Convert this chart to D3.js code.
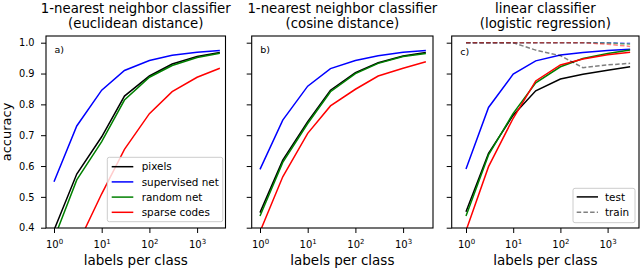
<!DOCTYPE html>
<html>
<head>
<meta charset="utf-8">
<script src="https://cdn.jsdelivr.net/npm/d3@7"></script>
<style>
  body { margin: 0; background: #fff; }
  text { font-family: "DejaVu Sans", sans-serif; fill: #000; }
</style>
</head>
<body>
<script>
const [width, height] = [640, 272];

// data
const labelsPerClass = [1, 3, 10, 30, 100, 300, 1000, 3000];
const seriesNames = ['pixels', 'supervised net', 'random net', 'sparse codes'];
const seriesColors = ['#000000', '#0000ff', '#008000', '#ff0000'];
const yTicks = [0.4, 0.5, 0.6, 0.7, 0.8, 0.9, 1.0];
const xTicks = [1, 10, 100, 1000];

// a) euclidean
const euclidPixels     = [0.392, 0.574, 0.695, 0.827, 0.892, 0.931, 0.955, 0.968];
const euclidSupervised = [0.549, 0.730, 0.846, 0.910, 0.942, 0.959, 0.969, 0.975];
const euclidRandom     = [0.364, 0.555, 0.679, 0.814, 0.888, 0.926, 0.952, 0.966];
const euclidSparse     = [0.220, 0.340, 0.510, 0.654, 0.770, 0.841, 0.888, 0.917];
// b) cosine
const cosinePixels     = [0.449, 0.619, 0.744, 0.846, 0.903, 0.935, 0.957, 0.968];
const cosineSupervised = [0.589, 0.749, 0.859, 0.916, 0.942, 0.958, 0.969, 0.975];
const cosineRandom     = [0.438, 0.612, 0.738, 0.841, 0.900, 0.933, 0.955, 0.965];
const cosineSparse     = [0.387, 0.565, 0.706, 0.795, 0.849, 0.892, 0.917, 0.938];
// c) logistic regression, test
const linearPixels     = [0.452, 0.641, 0.765, 0.844, 0.882, 0.898, 0.911, 0.922];
const linearSupervised = [0.590, 0.790, 0.898, 0.941, 0.960, 0.968, 0.975, 0.979];
const linearRandom     = [0.438, 0.636, 0.771, 0.870, 0.922, 0.949, 0.965, 0.976];
const linearSparse     = [0.390, 0.598, 0.755, 0.876, 0.928, 0.947, 0.961, 0.969];
// c) logistic regression, train
const trainPixels      = [1.000, 1.000, 1.000, 0.976, 0.958, 0.919, 0.928, 0.933];
const trainSupervised  = [1.000, 1.000, 1.000, 1.000, 1.000, 1.000, 1.000, 0.998];
const trainRandom      = [1.000, 1.000, 1.000, 1.000, 1.000, 1.000, 0.999, 0.995];
const trainSparse      = [1.000, 1.000, 1.000, 1.000, 1.000, 1.000, 0.995, 0.988];

const panels = [
  { title: ['1-nearest neighbor classifier', '(euclidean distance)'], tag: 'a)',
    left: 46, right: 225.5, x1: 54, dec: 47.7, tagY: 53,
    test: [euclidPixels, euclidSupervised, euclidRandom, euclidSparse] },
  { title: ['1-nearest neighbor classifier', '(cosine distance)'], tag: 'b)',
    left: 251.7, right: 433, x1: 260, dec: 47.7, tagY: 53,
    test: [cosinePixels, cosineSupervised, cosineRandom, cosineSparse] },
  { title: ['linear classifier', '(logistic regression)'], tag: 'c)',
    left: 451.7, right: 639, x1: 466, dec: 47.2, tagY: 55,
    test: [linearPixels, linearSupervised, linearRandom, linearSparse],
    train: [trainPixels, trainSupervised, trainRandom, trainSparse] }
];

const [axTop, axBottom] = [36, 228];

const svg = d3.select('body')
  .append('svg')
  .attr('width', width)
  .attr('height', height);

const y = d3.scaleLinear().domain([0.4, 1.0]).range([227.7, 42.7]);

panels.forEach((p, i) => {
  const x = d3.scaleLog().domain([1, 1000]).range([p.x1, p.x1 + 3 * p.dec]);
  const g = svg.append('g');

  svg.append('clipPath').attr('id', 'clip' + i)
    .append('rect')
    .attr('x', p.left).attr('y', axTop)
    .attr('width', p.right - p.left).attr('height', axBottom - axTop);

  const line = d3.line()
    .x(d => x(d[0]))
    .y(d => y(d[1]));

  const plot = g.append('g').attr('clip-path', `url(#clip${i})`);

  p.test.forEach((vals, k) => {
    plot.append('path')
      .attr('d', line(labelsPerClass.map((l, j) => [l, vals[j]])))
      .attr('fill', 'none')
      .attr('stroke', seriesColors[k])
      .attr('stroke-width', 1.5);
  });

  if (p.train) {
    p.train.forEach((vals, k) => {
      plot.append('path')
        .attr('d', line(labelsPerClass.map((l, j) => [l, vals[j]])))
        .attr('fill', 'none')
        .attr('stroke', seriesColors[k])
        .attr('stroke-opacity', 0.5)
        .attr('stroke-dasharray', '4.5,2.2')
        .attr('stroke-width', 1.5);
    });
  }

  // axes
  const xAxis = g.append('g')
    .attr('transform', `translate(0,${axBottom})`)
    .call(d3.axisBottom(x).tickValues(xTicks).tickSize(5).tickFormat(''));
  xAxis.select('.domain').remove();
  xAxis.selectAll('.tick line').attr('stroke', '#000').attr('stroke-width', 1);
  xAxis.selectAll('.tick text').remove();
  xAxis.selectAll('.tick').append('text')
    .attr('y', 20)
    .attr('text-anchor', 'middle')
    .attr('font-size', '10px')
    .attr('font-family', '"DejaVu Sans", sans-serif')
    .attr('fill', '#000')
    .each(function(d) {
      const t = d3.select(this);
      t.append('tspan').text('10');
      t.append('tspan').attr('dy', -4.5).attr('font-size', '7px')
        .text(Math.round(Math.log10(d)));
    });

  const yAxis = g.append('g')
    .attr('transform', `translate(${p.left},0)`)
    .call(d3.axisLeft(y).tickValues(yTicks).tickSize(5).tickPadding(6.5)
      .tickFormat(i === 0 ? d3.format('.1f') : ''));
  yAxis.select('.domain').remove();
  yAxis.selectAll('.tick line').attr('stroke', '#000').attr('stroke-width', 1);
  yAxis.selectAll('.tick text')
    .attr('font-size', '9.8px')
    .attr('font-family', '"DejaVu Sans", sans-serif')
    .attr('fill', '#000');

  // spines
  g.append('rect')
    .attr('x', p.left).attr('y', axTop)
    .attr('width', p.right - p.left).attr('height', axBottom - axTop)
    .attr('fill', 'none')
    .attr('stroke', '#000')
    .attr('stroke-width', 1.1);

  // title
  const cx = (p.left + p.right) / 2;
  p.title.forEach((t, k) => {
    svg.append('text')
      .attr('x', cx).attr('y', 12.5 + 15 * k)
      .attr('text-anchor', 'middle')
      .attr('font-size', '13.3px')
      .text(t);
  });

  svg.append('text')
    .attr('x', cx).attr('y', 265)
    .attr('text-anchor', 'middle')
    .attr('font-size', '13.5px')
    .text('labels per class');

  svg.append('text')
    .attr('x', p.left + 8.5).attr('y', p.tagY)
    .attr('font-size', '9.5px')
    .text(p.tag);
});

svg.append('text')
  .attr('transform', 'translate(11,132) rotate(-90)')
  .attr('text-anchor', 'middle')
  .attr('font-size', '13px')
  .text('accuracy');

// legend a)
const legA = svg.append('g');
legA.append('rect')
  .attr('x', 107.3).attr('y', 157.3).attr('width', 115.5).attr('height', 64.4)
  .attr('rx', 2).attr('fill', '#fff').attr('fill-opacity', 0.8)
  .attr('stroke', '#cccccc').attr('stroke-width', 1);
seriesNames.forEach((name, k) => {
  const yy = 166.7 + 15.2 * k;
  legA.append('line')
    .attr('x1', 111.7).attr('x2', 133.3).attr('y1', yy).attr('y2', yy)
    .attr('stroke', seriesColors[k]).attr('stroke-width', 1.5);
  legA.append('text')
    .attr('x', 141.7).attr('y', yy + 3.6)
    .attr('font-size', '10.4px')
    .text(name);
});

// legend c)
const legendC = ['test', 'train'];
const legC = svg.append('g');
legC.append('rect')
  .attr('x', 573).attr('y', 188.3).attr('width', 62).attr('height', 34.4)
  .attr('rx', 2).attr('fill', '#fff').attr('fill-opacity', 0.8)
  .attr('stroke', '#cccccc').attr('stroke-width', 1);
legendC.forEach((name, k) => {
  const yy = 196.9 + 15.3 * k;
  legC.append('line')
    .attr('x1', 576.7).attr('x2', 598).attr('y1', yy).attr('y2', yy)
    .attr('stroke', k === 0 ? '#000' : '#808080')
    .attr('stroke-dasharray', k === 0 ? null : '4.5,2.2')
    .attr('stroke-width', 1.5);
  legC.append('text')
    .attr('x', 605).attr('y', yy + 3.6)
    .attr('font-size', '10.4px')
    .text(name);
});
</script>
</body>
</html>
